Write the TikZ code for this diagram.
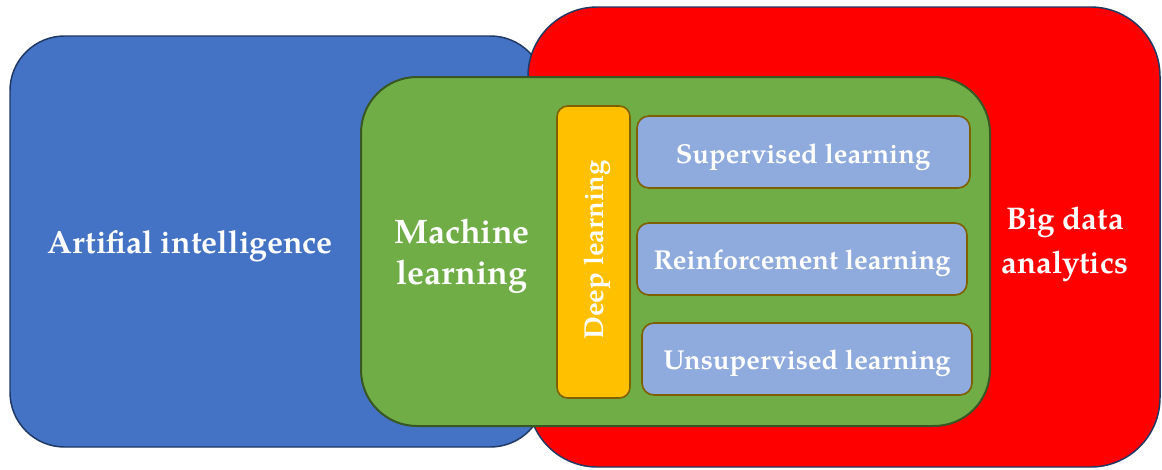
\documentclass[tikz,border=0pt]{standalone}
\usepackage{fontspec}
\setmainfont{texgyrepagella}[Extension=.otf, UprightFont=*-regular, BoldFont=*-bold, ItalicFont=*-italic, BoldItalicFont=*-bolditalic]

\definecolor{aiblue}{HTML}{4472C4}
\definecolor{bdred}{HTML}{FF0000}
\definecolor{mlgreen}{HTML}{70AD47}
\definecolor{dlorange}{HTML}{FFC000}
\definecolor{sublue}{HTML}{8FAADC}
\definecolor{navyline}{HTML}{1F3864}
\definecolor{greenline}{HTML}{385723}
\definecolor{brownline}{HTML}{7F6000}

\tikzset{
  region/.style={draw=navyline, line width=1.1pt, inner sep=0pt},
  mlregion/.style={draw=greenline, line width=1.5pt, fill=mlgreen, inner sep=0pt},
  subbox/.style={draw=brownline, line width=1.2pt, fill=sublue, inner sep=0pt,
                 rounded corners=9pt, minimum height=72*0.75pt},
  bigtext/.style={text=white, font=\fontsize{24}{31}\selectfont\bfseries, align=center, inner sep=0pt},
  boxtext/.style={text=white, font=\fontsize{20.5}{24}\selectfont\bfseries, inner sep=0pt, anchor=base}
}

\begin{document}
\begin{tikzpicture}[x=0.75pt, y=-0.75pt]
  \useasboundingbox (0,0) rectangle (1162,469);

  % outer fields
  \node[region, fill=aiblue, rounded corners=41pt,
        minimum width=535*0.75pt, minimum height=411*0.75pt] (ai) at (277.5,241.5) {};
  \node[region, fill=bdred, rounded corners=52pt,
        minimum width=632*0.75pt, minimum height=460*0.75pt] (bd) at (844,237) {};

  % machine learning field
  \node[mlregion, rounded corners=42pt,
        minimum width=629*0.75pt, minimum height=349*0.75pt] (ml) at (675.5,251.5) {};

  % deep learning bar
  \node[draw=brownline, line width=1.2pt, fill=dlorange, inner sep=0pt, rounded corners=8pt,
        minimum width=73*0.75pt, minimum height=292*0.75pt] (dl) at (593.5,252) {};

  % learning paradigms
  \node[subbox, minimum width=333*0.75pt] (sup) at (803.5,152) {};
  \node[subbox, minimum width=330*0.75pt] (rein) at (802,259) {};
  \node[subbox, minimum width=330*0.75pt] (unsup) at (807,359) {};

  % labels
  \node[bigtext, anchor=base] (aiL) at (190,253) {Artifial intelligence};
  \node[bigtext, font=\fontsize{25.5}{31}\selectfont\bfseries] (mlL) at (462,256) {Machine\\learning};
  \node[bigtext, font=\fontsize{23.5}{33}\selectfont\bfseries] (bdL) at (1065,244) {Big data\\analytics};
  \node[boxtext, rotate=90] (dlL) at (603,250) {Deep learning};
  \node[boxtext] (supL) at (803,163) {Supervised learning};
  \node[boxtext] (reinL) at (802,269) {Reinforcement learning};
  \node[boxtext] (unsupL) at (807,369) {Unsupervised learning};
\end{tikzpicture}
\end{document}
